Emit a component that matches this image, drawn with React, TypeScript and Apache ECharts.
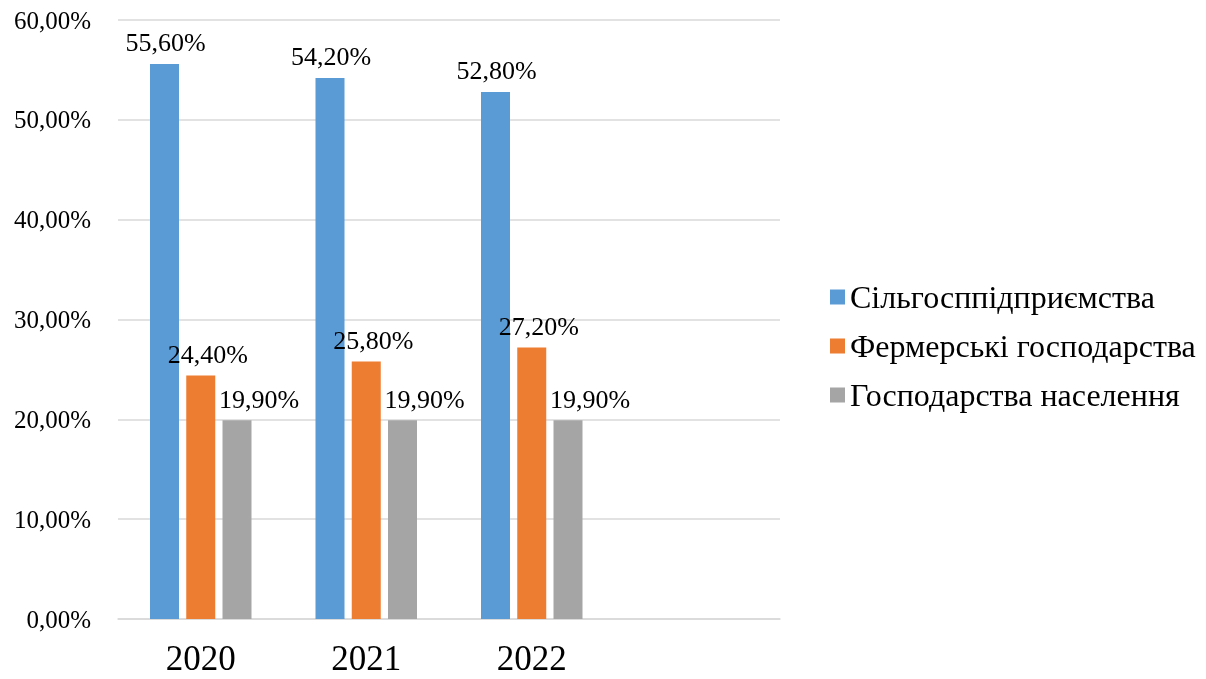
import React, { useEffect, useRef } from "react";
import * as echarts from "echarts";

const categories = ["2020", "2021", "2022", ""];
const seriesNames = ["Сільгосппідприємства", "Фермерські господарства", "Господарства населення"];
const agroEnterprises = [55.6, 54.2, 52.8, null];
const farms = [24.4, 25.8, 27.2, null];
const households = [19.9, 19.9, 19.9, null];
const colors = ["#5B9BD5", "#ED7D31", "#A5A5A5"];
const labelOffsets = [[1, 0], [7, 0], [22, 0]];

const FONT = "Liberation Serif";

export default function App() {
  const ref = useRef<HTMLDivElement>(null);
  useEffect(() => {
    if (!ref.current) return;
    const chart = echarts.init(ref.current, undefined, { renderer: "svg" });
    const fmt = (v: number) => v.toFixed(2).replace(".", ",") + "%";
    const datasets = [agroEnterprises, farms, households];
    chart.setOption({
      animation: false,
      textStyle: { fontFamily: FONT },
      grid: { left: 118, right: 426, top: 20, bottom: 60, containLabel: false },
      legend: {
        orient: "vertical",
        left: 825,
        top: 276,
        itemWidth: 15,
        itemHeight: 15,
        itemGap: 17,
        icon: "rect",
        textStyle: { fontFamily: FONT, fontSize: 32, lineHeight: 32, color: "#000" },
        data: seriesNames,
      },
      xAxis: {
        type: "category",
        data: categories,
        axisLine: { lineStyle: { color: "#D9D9D9", width: 1.5 } },
        axisTick: { show: false },
        axisLabel: { fontFamily: FONT, fontSize: 35, lineHeight: 30, color: "#000", margin: 24 },
      },
      yAxis: {
        type: "value",
        min: 0,
        max: 60,
        interval: 10,
        axisLine: { show: false },
        axisTick: { show: false },
        splitLine: { lineStyle: { color: "#D9D9D9", width: 1.5 } },
        axisLabel: {
          fontFamily: FONT,
          fontSize: 25,
          color: "#000",
          margin: 27,
          formatter: (v: number) => fmt(v),
        },
      },
      series: datasets.map((d, i) => ({
        name: seriesNames[i],
        type: "bar",
        data: d,
        barWidth: 29,
        barGap: "25%",
        itemStyle: { color: colors[i] },
        label: {
          show: true,
          position: "top",
          distance: 8,
          offset: labelOffsets[i],
          fontFamily: FONT,
          fontSize: 26,
          color: "#000",
          formatter: (p: any) => fmt(p.value),
        },
      })),
    });
    return () => chart.dispose();
  }, []);
  return <div ref={ref} style={{ position: "fixed", left: 0, top: 0, width: 1206, height: 679 }} />;
}
